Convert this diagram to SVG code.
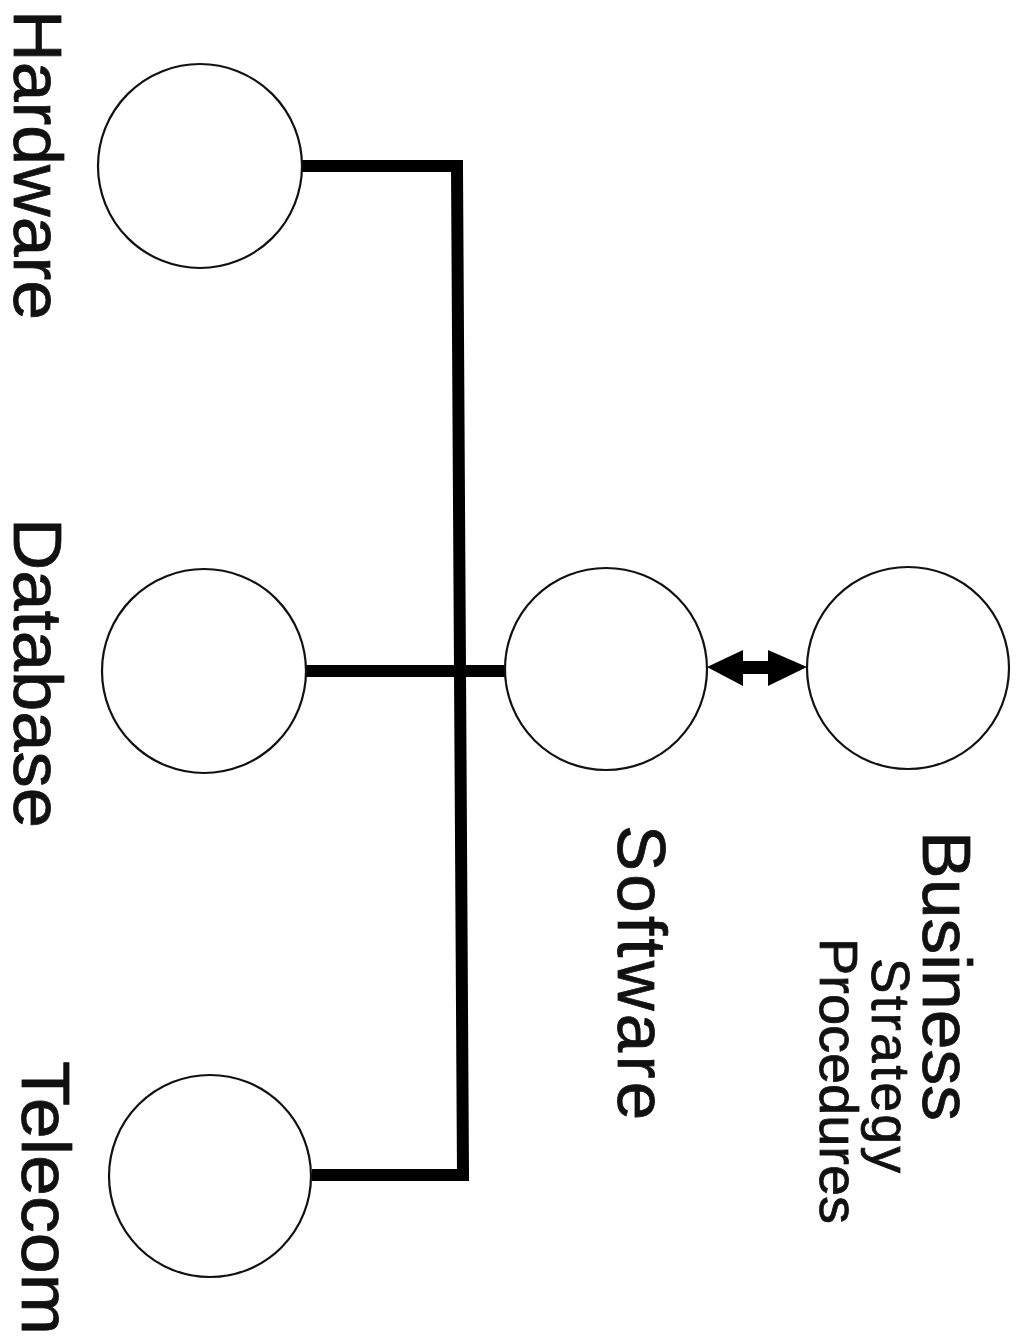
<svg xmlns="http://www.w3.org/2000/svg" width="1021" height="1337" viewBox="0 0 1021 1337">
<style>
.node circle{fill:#fff;stroke:#111;stroke-width:2.2}
.lbl{font-family:"Liberation Sans",Arial,sans-serif;fill:#111;stroke:#111;stroke-width:0.8}
.big{font-size:69px}
.small{font-size:53px}
.conn{fill:none;stroke:#000;stroke-width:12;stroke-linejoin:miter;stroke-linecap:butt}
</style>
<rect width="1021" height="1337" fill="#fff"/>
<g id="connectors">
<path class="conn" d="M302,166 L457,166 L463,1175 L312,1175"/>
<path class="conn" d="M306,671 L507,671"/>
<polygon fill="#000" points="707,667 743,650 743,661 768,661 768,650 807,667 768,686 768,674 743,674 743,686"/>
</g>
<g id="hardware" class="node">
<circle cx="200" cy="166" r="102"/>
<text class="lbl big" transform="translate(14,10) rotate(90)" textLength="310" lengthAdjust="spacingAndGlyphs">Hardware</text>
</g>
<g id="database" class="node">
<circle cx="204" cy="671" r="102"/>
<text class="lbl big" transform="translate(14,518) rotate(90)" textLength="310" lengthAdjust="spacingAndGlyphs">Database</text>
</g>
<g id="telecom" class="node">
<circle cx="210" cy="1176" r="101"/>
<text class="lbl big" transform="translate(22,1061) rotate(90)" textLength="274" lengthAdjust="spacingAndGlyphs">Telecom</text>
</g>
<g id="software" class="node">
<circle cx="606" cy="669" r="101"/>
<text class="lbl big" transform="translate(618,825) rotate(90)" textLength="295" lengthAdjust="spacing">Software</text>
</g>
<g id="business" class="node">
<circle cx="908" cy="668" r="101"/>
<text class="lbl big" transform="translate(923,831) rotate(90)" textLength="290" lengthAdjust="spacingAndGlyphs">Business</text>
<text class="lbl small" transform="translate(872,958) rotate(90)" textLength="215" lengthAdjust="spacing">Strategy</text>
<text class="lbl small" transform="translate(820,938) rotate(90)" textLength="286" lengthAdjust="spacingAndGlyphs">Procedures</text>
</g>
</svg>
